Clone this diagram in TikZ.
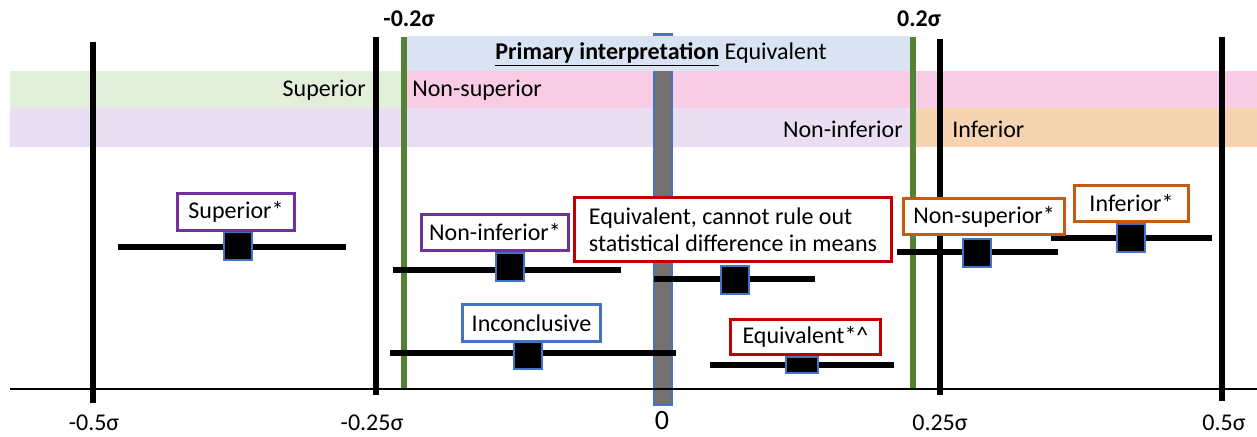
\documentclass[tikz,border=0pt]{standalone}
\usepackage{fontspec}
\setmainfont{Carlito}
\definecolor{bgreen}{RGB}{226,239,218}
\definecolor{bpink}{RGB}{248,204,228}
\definecolor{bpurple}{RGB}{233,222,242}
\definecolor{borange}{RGB}{246,211,177}
\definecolor{bblue}{RGB}{218,227,243}
\definecolor{lgreen}{RGB}{84,130,53}
\definecolor{gbar}{RGB}{118,113,113}
\definecolor{eblue}{RGB}{68,114,196}
\definecolor{cpurple}{RGB}{112,48,160}
\definecolor{cred}{RGB}{192,0,0}
\definecolor{corange}{RGB}{197,90,17}
\tikzset{
  vline/.style={line width=4.5pt},
  gline/.style={line width=5pt, draw=lgreen},
  ci/.style={line width=4.5pt},
  est/.style={rectangle, fill=black, draw=eblue, line width=0.8pt, minimum width=21pt, minimum height=21pt, inner sep=0pt},
  lab/.style={rectangle, draw, fill=white, line width=2.2pt, inner sep=0pt, font=\fontsize{18}{20.5}\selectfont},
  bandtxt/.style={inner sep=0pt, font=\fontsize{18}{20}\selectfont},
  ticktxt/.style={inner sep=0pt, font=\fontsize{18}{20}\selectfont},
}
\begin{document}
\begin{tikzpicture}[x=0.75pt,y=-0.75pt]
\useasboundingbox (0,0) rectangle (1257,436);
% bands
\fill[bgreen] (10,71) rectangle (404,108);
\fill[bpink] (404,71) rectangle (1257,108);
\fill[bpurple] (10,108) rectangle (913,147);
\fill[borange] (913,108) rectangle (1257,147);
% gray bar
\filldraw[fill=gbar, draw=eblue, line width=0.8pt] (654,34) rectangle (672,405);
\fill[bblue] (407,36) rectangle (910,71);
% vertical lines
\coordinate (va1) at (93,42); \coordinate (vb1) at (93,403);
\coordinate (va2) at (376,37); \coordinate (vb2) at (376,395);
\coordinate (va3) at (940,39); \coordinate (vb3) at (940,395);
\coordinate (va4) at (1222,37); \coordinate (vb4) at (1222,401);
\draw[vline] (va1) -- (vb1);
\draw[vline] (va2) -- (vb2);
\draw[vline] (va3) -- (vb3);
\draw[vline] (va4) -- (vb4);
\coordinate (ga1) at (404,37); \coordinate (gb1) at (404,389);
\coordinate (ga2) at (913,37); \coordinate (gb2) at (913,389);
\draw[gline] (ga1) -- (gb1);
\draw[gline] (ga2) -- (gb2);
% axis
\coordinate (ax1) at (10,389); \coordinate (ax2) at (1257,389);
\draw[line width=1.1pt] (ax1) -- (ax2);
% band texts
\node[bandtxt, anchor=east] (tsup) at (366,90) {Superior};
\node[bandtxt, anchor=west] (tnsup) at (412,90) {Non-superior};
\node[bandtxt, anchor=east] (tninf) at (903,129) {Non-inferior};
\node[bandtxt, anchor=west] (tinf) at (952,129) {Inferior};
\node[bandtxt] (tprim) at (661,54) {\textbf{\underline{Primary interpretation}} Equivalent};
\node[bandtxt] (tm02) at (409,19) {\textbf{-0.2σ}};
\node[bandtxt] (tp02) at (919,19) {\textbf{0.2σ}};
% tick labels
\node[ticktxt] (x1) at (94,423) {-0.5σ};
\node[ticktxt] (x2) at (372,423) {-0.25σ};
\node[inner sep=0pt, font=\fontsize{21}{23}\selectfont] (x3) at (662,421) {0};
\node[ticktxt] (x4) at (940,423) {0.25σ};
\node[ticktxt] (x5) at (1224,423) {0.5σ};
% CI lines
\coordinate (c1a) at (118,247); \coordinate (c1b) at (346,247);
\coordinate (c2a) at (393,270); \coordinate (c2b) at (621,270);
\coordinate (c3a) at (654,279); \coordinate (c3b) at (815,279);
\coordinate (c4a) at (390,353); \coordinate (c4b) at (676,353);
\coordinate (c5a) at (710,365); \coordinate (c5b) at (894,365);
\coordinate (c6a) at (897,252); \coordinate (c6b) at (1058,252);
\coordinate (c7a) at (1051,238); \coordinate (c7b) at (1212,238);
\draw[ci] (c1a) -- (c1b);
\draw[ci] (c2a) -- (c2b);
\draw[ci] (c3a) -- (c3b);
\draw[ci] (c4a) -- (c4b);
\draw[ci] (c5a) -- (c5b);
\draw[ci] (c6a) -- (c6b);
\draw[ci] (c7a) -- (c7b);
% estimates
\node[est] (e1) at (238,246) {};
\node[est] (e2) at (510,267) {};
\node[est] (e3) at (735,280) {};
\node[est] (e4) at (528,355) {};
\node[est, minimum width=24pt, minimum height=12pt] (e5) at (802,365) {};
\node[est] (e6) at (977,253) {};
\node[est] (e7) at (1131,238) {};
% labels
\node[lab, draw=cpurple, minimum width=88pt, minimum height=28pt] (l1) at (236,212) {Superior*};
\node[lab, draw=cpurple, minimum width=110pt, minimum height=27.5pt] (l2) at (495,232.5) {Non-inferior*};
\node[lab, draw=cred, minimum width=238pt, minimum height=48pt, align=left] (l3) at (733,229.5) {Equivalent, cannot rule out\\statistical difference in means};
\node[lab, draw=eblue, minimum width=104pt, minimum height=28pt] (l4) at (531.5,323) {Inconclusive};
\node[lab, draw=cred, minimum width=113pt, minimum height=26.5pt] (l5) at (805.5,337) {Equivalent*\^{}};
\node[lab, draw=corange, minimum width=121pt, minimum height=27.5pt] (l6) at (984,216.5) {Non-superior*};
\node[lab, draw=corange, minimum width=86pt, minimum height=27.5pt] (l7) at (1131.5,203.5) {Inferior*};
\end{tikzpicture}
\end{document}
